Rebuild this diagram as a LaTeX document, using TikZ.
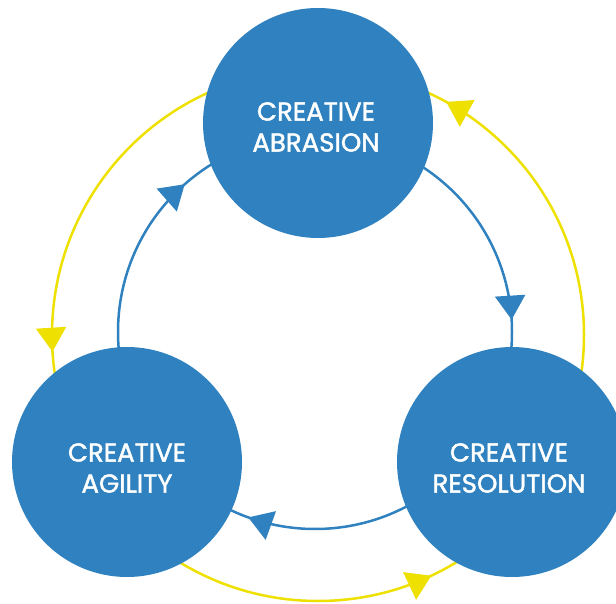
\documentclass[tikz,border=0pt]{standalone}
\usepackage{fontspec}
\setmainfont[FakeStretch=1.0,FakeBold=1.6]{Poppins}
\usetikzlibrary{arrows.meta,decorations.markings,calc}
\definecolor{cblue}{HTML}{2F82BF}
\definecolor{cyel}{HTML}{EEE000}
\tikzset{
  ring/.style={line width=2.5pt},
  tri/.tip={Triangle[length=24pt,width=30pt]},
  blue ring/.style={ring, draw=cblue, postaction={decorate},
    decoration={markings,
      mark=at position 0.135 with {\arrow{tri}},
      mark=at position 0.49 with {\arrow{tri}},
      mark=at position 0.805 with {\arrow{tri}}}},
  yellow ring/.style={ring, draw=cyel, postaction={decorate},
    decoration={markings,
      mark=at position 0.26 with {\arrow{tri}},
      mark=at position 0.57 with {\arrow{tri}},
      mark=at position 0.92 with {\arrow{tri}}}},
  bubble/.style={circle, fill=cblue, minimum size=230pt, inner sep=0pt},
  bubbletext/.style={text=white, align=center, font=\fontsize{26}{31}\selectfont},
}
\begin{document}
\begin{tikzpicture}[x=1pt,y=1pt]
\useasboundingbox (0,0) rectangle (616,-604);
\clip (0,0) rectangle (616,-604);
\coordinate (bc) at (315,-332);
\coordinate (yc) at (318,-335);
\draw[yellow ring] ($(yc)+(90:266)$) arc[start angle=90,end angle=450,radius=266];
\draw[blue ring] ($(bc)+(180:197)$) arc[start angle=180,end angle=-180,radius=197];
\node[bubble] (abrasion) at (318,-123) {};
\node[bubble] (agility) at (127,-462) {};
\node[bubble] (resolution) at (512,-462) {};
\node[bubbletext] (t1) at ($(abrasion)+(-2,-4)$) {CREATIVE\\ABRASION};
\node[bubbletext] (t2) at ($(agility)+(0,-6)$) {CREATIVE\\AGILITY};
\node[bubbletext] (t3) at ($(resolution)+(-3,-6)$) {CREATIVE\\RESOLUTION};
\end{tikzpicture}
\end{document}
